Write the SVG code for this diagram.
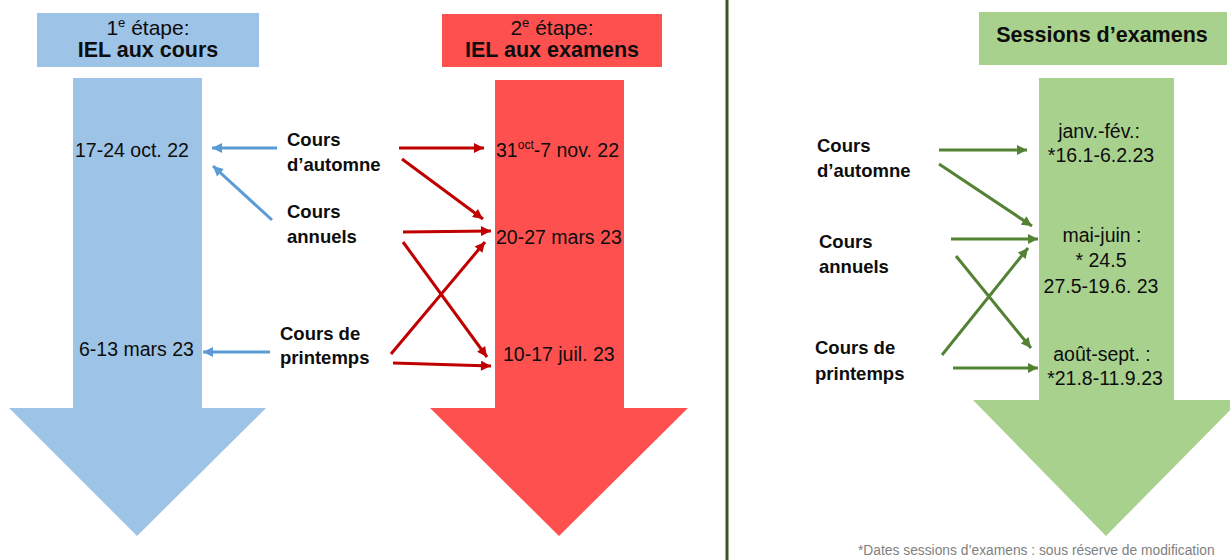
<svg xmlns="http://www.w3.org/2000/svg" width="1230" height="560" viewBox="0 0 1230 560">
<defs>
<style>
.t{font-family:"Liberation Sans",Arial,sans-serif;fill:#0d0d0d}
.r{font-size:19.5px}
.b{font-size:18.5px;font-weight:bold}
.h{font-size:21.5px;font-weight:bold}
.hr{font-size:21px}
.blue{stroke:#5b9bd5;stroke-width:3;fill:none}
.red{stroke:#c00000;stroke-width:3;fill:none}
.green{stroke:#548235;stroke-width:3;fill:none}
</style>
<marker id="mb" viewBox="0 0 10 10" refX="10" refY="5" markerWidth="11" markerHeight="10" markerUnits="userSpaceOnUse" orient="auto"><path d="M0,0 L10,5 L0,10 z" fill="#5b9bd5"/></marker>
<marker id="mr" viewBox="0 0 10 10" refX="10" refY="5" markerWidth="11" markerHeight="10" markerUnits="userSpaceOnUse" orient="auto"><path d="M0,0 L10,5 L0,10 z" fill="#c00000"/></marker>
<marker id="mg" viewBox="0 0 10 10" refX="10" refY="5" markerWidth="11" markerHeight="10" markerUnits="userSpaceOnUse" orient="auto"><path d="M0,0 L10,5 L0,10 z" fill="#548235"/></marker>
</defs>
<rect width="1230" height="560" fill="#ffffff"/>

<g id="stage1">
<rect x="37" y="13" width="222" height="54" fill="#9dc3e6"/>
<text class="t hr" x="148" y="35" text-anchor="middle">1<tspan font-size="13" dy="-8">e</tspan><tspan dy="8"> étape:</tspan></text>
<text class="t h" x="148" y="57" text-anchor="middle">IEL aux cours</text>
<polygon points="73,78 202,78 202,408 266,408 137,536 9,408 73,408" fill="#9dc3e6"/>
<text class="t r" x="75" y="157">17-24 oct. 22</text>
<text class="t r" x="79" y="356">6-13 mars 23</text>
</g>

<g id="stage2">
<rect x="442" y="14" width="220" height="53" fill="#ff5050"/>
<text class="t hr" x="552" y="35" text-anchor="middle">2<tspan font-size="13" dy="-8">e</tspan><tspan dy="8"> étape:</tspan></text>
<text class="t h" x="552" y="57" text-anchor="middle">IEL aux examens</text>
<polygon points="495,80 624,80 624,408 688,408 559,536 430,408 495,408" fill="#ff5050"/>
<text class="t r" x="496" y="157">31<tspan font-size="12" dy="-8">oct</tspan><tspan dy="8">-7 nov. 22</tspan></text>
<text class="t r" x="496" y="244">20-27 mars 23</text>
<text class="t r" x="503" y="361">10-17 juil. 23</text>
</g>

<g id="divider">
<line x1="727" y1="0" x2="727" y2="560" stroke="#385723" stroke-width="3"/>
</g>

<g id="sessions">
<rect x="979" y="12" width="248" height="53" fill="#a9d18e"/>
<text class="t h" x="1102" y="42" text-anchor="middle">Sessions d’examens</text>
<polygon points="1039,78 1174,78 1174,400 1240,400 1106,536 973,400 1039,400" fill="#a9d18e"/>
<text class="t r" text-anchor="middle" x="1099" y="138">janv.-fév.:</text>
<text class="t r" text-anchor="middle" x="1101" y="162">*16.1-6.2.23</text>
<text class="t r" text-anchor="middle" x="1102" y="242">mai-juin :</text>
<text class="t r" text-anchor="middle" x="1101" y="267">* 24.5</text>
<text class="t r" text-anchor="middle" x="1101" y="293">27.5-19.6. 23</text>
<text class="t r" text-anchor="middle" x="1102" y="361">août-sept. :</text>
<text class="t r" text-anchor="middle" x="1105" y="385">*21.8-11.9.23</text>
</g>

<g id="labels-left">
<text class="t b" x="287" y="146">Cours</text>
<text class="t b" x="287" y="171">d’automne</text>
<text class="t b" x="287" y="218">Cours</text>
<text class="t b" x="287" y="243">annuels</text>
<text class="t b" x="280" y="340">Cours de</text>
<text class="t b" x="280" y="364">printemps</text>
</g>

<g id="labels-right">
<text class="t b" x="817" y="152">Cours</text>
<text class="t b" x="817" y="177">d’automne</text>
<text class="t b" x="819" y="248">Cours</text>
<text class="t b" x="819" y="273">annuels</text>
<text class="t b" x="815" y="354">Cours de</text>
<text class="t b" x="815" y="380">printemps</text>
</g>

<g id="connectors">
<line class="blue" x1="277" y1="148" x2="212" y2="148" marker-end="url(#mb)"/>
<line class="blue" x1="272" y1="220" x2="213" y2="166" marker-end="url(#mb)"/>
<line class="blue" x1="270" y1="352" x2="203" y2="352" marker-end="url(#mb)"/>

<line class="red" x1="399" y1="148" x2="484" y2="148" marker-end="url(#mr)"/>
<line class="red" x1="402" y1="159" x2="483" y2="219" marker-end="url(#mr)"/>
<line class="red" x1="403" y1="232" x2="491" y2="231" marker-end="url(#mr)"/>
<line class="red" x1="403" y1="242" x2="487" y2="357" marker-end="url(#mr)"/>
<line class="red" x1="391" y1="354" x2="485" y2="242" marker-end="url(#mr)"/>
<line class="red" x1="393" y1="363" x2="491" y2="366" marker-end="url(#mr)"/>

<line class="green" x1="939" y1="150" x2="1027" y2="150" marker-end="url(#mg)"/>
<line class="green" x1="939" y1="164" x2="1032" y2="226" marker-end="url(#mg)"/>
<line class="green" x1="951" y1="239" x2="1038" y2="239" marker-end="url(#mg)"/>
<line class="green" x1="956" y1="256" x2="1031" y2="348" marker-end="url(#mg)"/>
<line class="green" x1="942" y1="355" x2="1028" y2="248" marker-end="url(#mg)"/>
<line class="green" x1="953" y1="368" x2="1038" y2="368" marker-end="url(#mg)"/>
</g>

<g id="footnote">
<text x="858" y="555" font-family="'Liberation Sans',Arial,sans-serif" font-size="13.8" fill="#7f7f7f">*Dates sessions d’examens : sous réserve de modification</text>
</g>
</svg>
